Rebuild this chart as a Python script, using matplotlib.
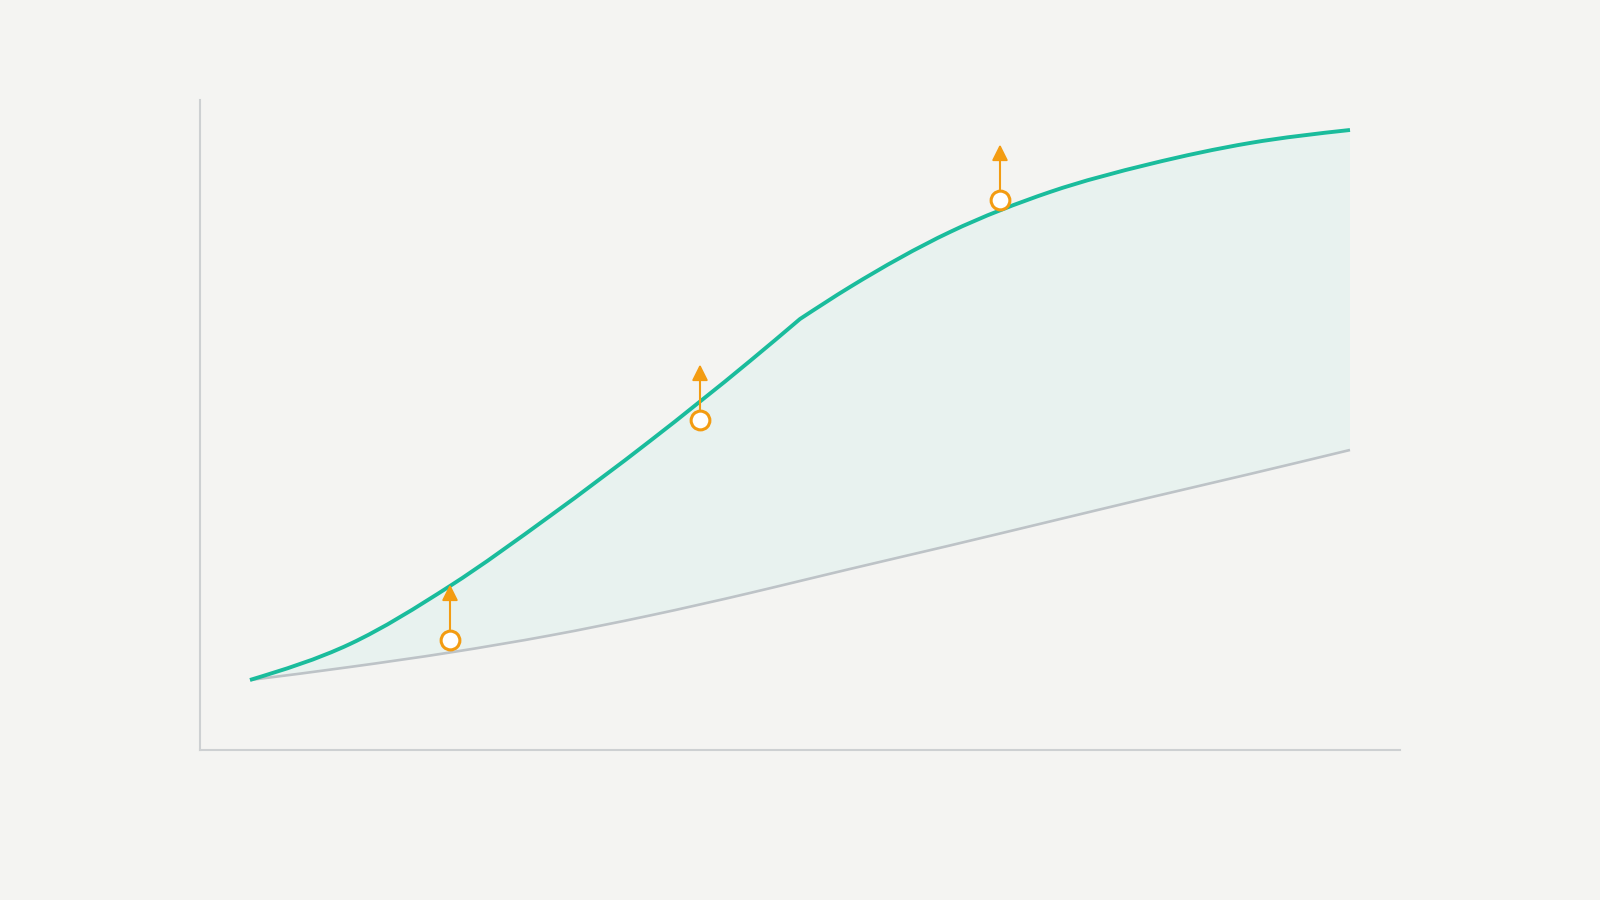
import numpy as np
import matplotlib
matplotlib.use("Agg")
from matplotlib import pyplot as plt
from matplotlib import transforms
from matplotlib.path import Path
from matplotlib.patches import PathPatch

# data
steps = [0, 1, 2, 3, 4, 5, 5.5, 6, 7, 8, 9, 10, 11]
upper = [14, 21.2, 32.8, 46.8, 61.8, 77.8, 86.2, 92.6, 103.6, 111.6, 117.2, 121.4, 124]
lower = [14, 16.6, 19.5, 22.9, 26.9, 31.4, 33.8, 36.2, 40.9, 45.7, 50.5, 55.2, 60]
upper_break = 6   # the upper line has a corner at steps[6]
mark_x = [2, 4.5, 7.5]
mark_y = [22, 66, 110]

bg = "#F4F4F2"
teal = "#1ABC9C"
grey = "#BDC3C7"
orange = "#F39C12"


def tangents(x, y):
    # monotone cubic tangents (same rule as d3 curveMonotoneX)
    x = np.asarray(x, float)
    y = np.asarray(y, float)
    h = np.diff(x)
    s = np.diff(y) / h
    t = np.zeros(len(x))
    for i in range(1, len(x) - 1):
        p = (s[i - 1] * h[i] + s[i] * h[i - 1]) / (h[i - 1] + h[i])
        t[i] = (np.sign(s[i - 1]) + np.sign(s[i])) * min(abs(s[i - 1]), abs(s[i]), 0.5 * abs(p))
    if len(x) > 2:
        t[0] = (3 * s[0] - t[1]) / 2
        t[-1] = (3 * s[-1] - t[-2]) / 2
    else:
        t[:] = s[0]
    return t


def curve_verts(x, y, breaks=()):
    # bezier vertices through the points, split at corners
    cuts = [0] + list(breaks) + [len(x) - 1]
    verts = [(x[0], y[0])]
    for a, b in zip(cuts[:-1], cuts[1:]):
        xs, ys = x[a:b + 1], y[a:b + 1]
        t = tangents(xs, ys)
        for i in range(len(xs) - 1):
            d = (xs[i + 1] - xs[i]) / 3
            verts += [(xs[i] + d, ys[i] + t[i] * d),
                      (xs[i + 1] - d, ys[i + 1] - t[i + 1] * d),
                      (xs[i + 1], ys[i + 1])]
    return verts


def curve_path(verts):
    codes = [Path.MOVETO] + [Path.CURVE4] * (len(verts) - 1)
    return Path(verts, codes)


up_v = curve_verts(steps, upper, [upper_break])
lo_v = curve_verts(steps, lower)

fig = plt.figure(figsize=(16, 9), dpi=100, facecolor=bg)
ax = fig.add_axes([0.125, 0.1667, 0.75, 0.7222], facecolor=bg)

# band between the two curves
band_v = up_v + [lo_v[-1]] + lo_v[::-1][1:] + [up_v[0]]
band_c = ([Path.MOVETO] + [Path.CURVE4] * (len(up_v) - 1) + [Path.LINETO]
          + [Path.CURVE4] * (len(lo_v) - 1) + [Path.CLOSEPOLY])
ax.add_patch(PathPatch(Path(band_v, band_c), facecolor="#E8F2EF", lw=0, zorder=1))

ax.add_patch(PathPatch(curve_path(lo_v), fill=False, edgecolor=grey, lw=1.9,
                       capstyle="butt", zorder=2))
ax.add_patch(PathPatch(curve_path(up_v), fill=False, edgecolor=teal, lw=2.8,
                       capstyle="butt", zorder=3))

# arrows pointing up from each marker
up = transforms.offset_copy(ax.transData, fig=fig, x=0, y=40, units="points")
for mx, my in zip(mark_x, mark_y):
    ax.annotate("", xy=(mx, my), xycoords=up, xytext=(mx, my), textcoords="data",
                arrowprops=dict(arrowstyle="-|>,head_length=0.48,head_width=0.24",
                                color=orange, lw=1.5, mutation_scale=20,
                                shrinkA=0, shrinkB=0),
                zorder=4)

ax.plot(mark_x, mark_y, "o", ms=13.5, mfc="white", mec=orange, mew=2.2,
        ls="none", zorder=5)

ax.set_xlim(-0.5, 11.5)
ax.set_ylim(0, 130)
ax.set_xticks([])
ax.set_yticks([])
for s in ["top", "right"]:
    ax.spines[s].set_visible(False)
for s in ["left", "bottom"]:
    ax.spines[s].set_color("#CDD0D2")
    ax.spines[s].set_linewidth(1.5)

fig.savefig("out.png", dpi=100, facecolor=bg)
